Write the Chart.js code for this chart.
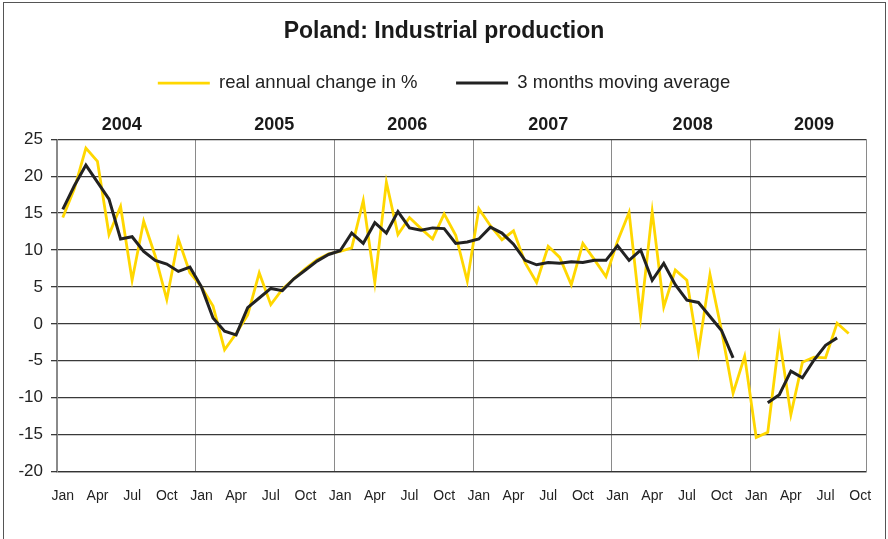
<!DOCTYPE html>
<html>
<head>
<meta charset="utf-8">
<title>Poland: Industrial production</title>
<script src="https://cdn.jsdelivr.net/npm/chart.js@4/dist/chart.umd.min.js"></script>
<style>
  html, body { margin: 0; padding: 0; background: #ffffff; }
  canvas { display: block; }
</style>
</head>
<body>
<canvas id="chart" width="888" height="539"></canvas>
<script>
// Monthly series, Jan 2004 – Oct 2009
const years = ['2004', '2005', '2006', '2007', '2008', '2009'];
const monthNames = ['Jan', 'Feb', 'Mar', 'Apr', 'May', 'Jun', 'Jul', 'Aug', 'Sep', 'Oct', 'Nov', 'Dec'];
const monthsInLastYear = 10;
const tickMonths = ['Jan', 'Apr', 'Jul', 'Oct'];

// real annual change in % (one value per month)
const annualChange = [
  14.4, 18.3, 23.8, 22.0, 12.1, 15.9, 5.9, 13.9, 9.2, 3.3, 11.5, 6.9,      // 2004
  5.0, 2.4, -3.5, -1.3, 1.2, 6.9, 2.6, 4.7, 6.1, 7.5, 8.7, 9.5,            // 2005
  9.8, 10.3, 16.7, 5.6, 19.2, 12.1, 14.4, 12.9, 11.5, 14.9, 12.0, 5.8,     // 2006
  15.6, 13.3, 11.4, 12.6, 8.3, 5.6, 10.5, 9.0, 5.3, 10.9, 8.7, 6.4,        // 2007
  11.2, 15.1, 0.9, 15.2, 2.3, 7.3, 5.9, -3.8, 6.7, -0.9, -9.4, -4.4,       // 2008
  -15.4, -14.7, -1.9, -12.3, -5.2, -4.5, -4.6, 0.1, -1.3, null             // 2009
];

// 3 months moving average
const movingAverage = [
  15.5, 18.7, 21.5, 19.2, 16.9, 11.5, 11.8, 9.8, 8.6, 8.1, 7.1, 7.7,       // 2004
  5.0, 0.8, -1.0, -1.5, 2.2, 3.5, 4.8, 4.5, 6.1, 7.3, 8.5, 9.4,            // 2005
  9.9, 12.3, 10.9, 13.7, 12.3, 15.2, 13.0, 12.7, 13.0, 12.9, 10.9, 11.1,   // 2006
  11.5, 13.1, 12.3, 10.8, 8.6, 8.0, 8.3, 8.2, 8.4, 8.3, 8.6, 8.6,          // 2007
  10.6, 8.6, 10.0, 5.9, 8.2, 5.3, 3.2, 2.9, 1.0, -0.9, -4.6, null,         // 2008
  null, -10.7, -9.6, -6.4, -7.3, -4.9, -2.9, -1.9, null, null              // 2009
];

const yMin = -20, yMax = 25, yStep = 5;

const categories = [];
years.forEach((y, k) => {
  const n = k === years.length - 1 ? monthsInLastYear : 12;
  for (let m = 0; m < n; m++) categories.push(monthNames[m] + ' ' + y);
});

const FONT = "'Liberation Sans', Arial, Helvetica, sans-serif";
const monthOf = (i) => (categories[i] || '').split(' ')[0];

// Year captions above the plot, placed on the month axis
const yearLabels = {
  id: 'yearLabels',
  afterDraw(chart, args, opts) {
    const x = chart.scales.x;
    const ctx = chart.ctx;
    ctx.save();
    ctx.font = 'bold ' + opts.size + 'px ' + FONT;
    ctx.fillStyle = opts.color;
    ctx.textAlign = 'center';
    ctx.textBaseline = 'middle';
    years.forEach((y, k) => {
      ctx.fillText(y, x.getPixelForValue(opts.at[k]), opts.y);
    });
    ctx.restore();
  }
};

// Thin frame around the whole figure
const frame = {
  id: 'frame',
  beforeDraw(chart) {
    const ctx = chart.ctx;
    ctx.save();
    ctx.strokeStyle = '#555555';
    ctx.lineWidth = 1;
    ctx.strokeRect(3.5, 2.5, chart.width - 6, chart.height + 10);
    ctx.restore();
  }
};

// Legend box sized so the plot starts below the year captions
const legendHeight = {
  id: 'legendHeight',
  beforeInit(chart) {
    const fit = chart.legend.fit;
    chart.legend.fit = function () {
      fit.call(this);
      this.height = 104;
    };
  }
};

new Chart(document.getElementById('chart'), {
  type: 'line',
  data: {
    labels: categories,
    datasets: [
      {
        label: 'real annual change in %',
        data: annualChange,
        borderColor: '#FFD700',
        backgroundColor: '#FFD700',
        borderWidth: 2.8,
        pointRadius: 0,
        tension: 0,
        order: 1
      },
      {
        label: '3 months moving average',
        data: movingAverage,
        borderColor: '#222222',
        backgroundColor: '#222222',
        borderWidth: 3,
        pointRadius: 0,
        tension: 0,
        order: 0
      }
    ]
  },
  options: {
    responsive: false,
    animation: false,
    devicePixelRatio: 1,
    layout: { padding: { top: 0, left: 0, right: 0, bottom: 0 } },
    plugins: {
      tooltip: { enabled: false },
      title: {
        display: true,
        text: 'Poland: Industrial production',
        color: '#1a1a1a',
        font: { family: FONT, size: 23, weight: 'bold', lineHeight: 1.2 },
        padding: { top: 18.2, bottom: -10.5 }
      },
      legend: {
        display: true,
        position: 'top',
        labels: {
          color: '#222222',
          font: { family: FONT, size: 18.5 },
          usePointStyle: true,
          pointStyle: 'line',
          pointStyleWidth: 52,
          padding: 38.5,
          sort: (a, b) => a.datasetIndex - b.datasetIndex
        }
      },
      yearLabels: {
        at: [5.1, 18.3, 29.8, 42.0, 54.5, 65.0],
        y: 125,
        size: 18,
        color: '#1a1a1a'
      }
    },
    scales: {
      x: {
        type: 'category',
        offset: true,
        grid: {
          offset: true,
          drawTicks: false,
          lineWidth: 1,
          color: (ctx) => (ctx.index !== undefined && monthOf(ctx.index) === 'Jan') ? '#8a8a8a' : 'rgba(0,0,0,0)'
        },
        border: { display: true, color: '#333333', width: 1.3 },
        ticks: {
          autoSkip: false,
          maxRotation: 0,
          minRotation: 0,
          padding: 16,
          color: '#222222',
          font: { family: FONT, size: 14 },
          callback: (value, index) => tickMonths.includes(monthOf(index)) ? monthOf(index) : ''
        },
        afterFit: (scale) => { scale.height = 67.5; }
      },
      y: {
        type: 'linear',
        position: 'left',
        min: yMin,
        max: yMax,
        grid: {
          color: '#3a3a3a',
          lineWidth: 1.3,
          drawTicks: true,
          tickLength: 6,
          tickColor: '#3a3a3a'
        },
        border: { display: true, color: '#8a8a8a', width: 1 },
        ticks: {
          stepSize: yStep,
          padding: 8,
          color: '#222222',
          font: { family: FONT, size: 17 }
        },
        afterFit: (scale) => { scale.width = 57; }
      },
      y2: {
        type: 'linear',
        position: 'right',
        min: yMin,
        max: yMax,
        grid: { display: false, drawTicks: false },
        border: { display: true, color: '#8a8a8a', width: 1 },
        ticks: { display: false },
        afterFit: (scale) => { scale.width = 22; }
      }
    }
  },
  plugins: [legendHeight, yearLabels, frame]
});
</script>
</body>
</html>
